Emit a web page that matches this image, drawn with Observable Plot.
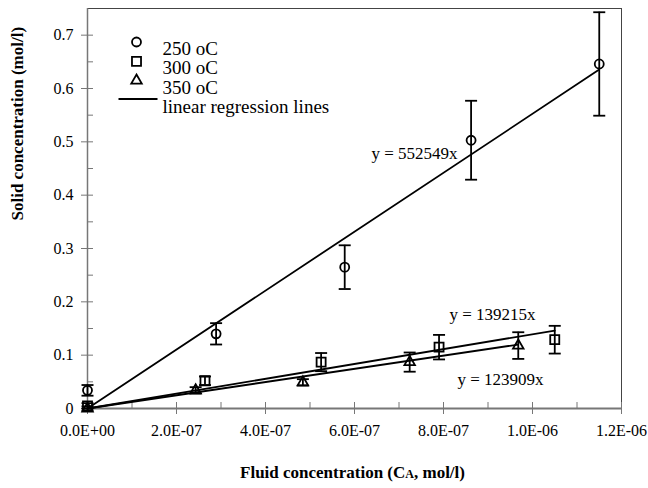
<!DOCTYPE html>
<html>
<head>
<meta charset="utf-8">
<script src="https://cdn.jsdelivr.net/npm/d3@7"></script>
<script src="https://cdn.jsdelivr.net/npm/@observablehq/plot@0.6"></script>
<style>
  html, body { margin: 0; padding: 0; background: #fff; }
  #chart { width: 648px; height: 488px; }
  #chart svg, #chart svg text { font-family: "Liberation Serif", "Times New Roman", serif !important; }
</style>
</head>
<body>
<div id="chart"></div>
<script>
// ---- data ----
const seriesNames = ["250 oC", "300 oC", "350 oC"];
const seriesSymbols = ["circle", "square", "triangle"];

const x250 = [0, 2.89e-7, 5.78e-7, 8.62e-7, 1.15e-6];
const y250 = [0.034, 0.140, 0.265, 0.503, 0.646];
const e250 = [0.010, 0.020, 0.041, 0.074, 0.097];

const x300 = [0, 2.64e-7, 5.25e-7, 7.90e-7, 1.05e-6];
const y300 = [0.005, 0.052, 0.087, 0.115, 0.129];
const e300 = [0.005, 0.008, 0.017, 0.023, 0.026];

const x350 = [0, 2.43e-7, 4.84e-7, 7.24e-7, 9.68e-7];
const y350 = [0.000, 0.034, 0.049, 0.087, 0.118];
const e350 = [0.004, 0.006, 0.006, 0.018, 0.025];

const slopes = [552549, 139215, 123909];
const eqLabels = ["y = 552549x", "y = 139215x", "y = 123909x"];
const eqX = [7.35e-7, 9.10e-7, 9.28e-7];
const eqY = [0.478, 0.176, 0.054];

const xMajor = [0, 2e-7, 4e-7, 6e-7, 8e-7, 1e-6, 1.2e-6];
const xTickLabels = ["0.0E+00", "2.0E-07", "4.0E-07", "6.0E-07", "8.0E-07", "1.0E-06", "1.2E-06"];
const xMinor = [1e-7, 3e-7, 5e-7, 7e-7, 9e-7, 1.1e-6];
const yMajor = [0, 0.1, 0.2, 0.3, 0.4, 0.5, 0.6, 0.7];
const yTickLabels = ["0", "0.1", "0.2", "0.3", "0.4", "0.5", "0.6", "0.7"];
const yMinor = [0.05, 0.15, 0.25, 0.35, 0.45, 0.55, 0.65];

const xTitle = "Fluid concentration (CA, mol/l)";
const yTitle = "Solid concentration (mol/l)";
const legendLineLabel = "linear regression lines";

// ---- build tables ----
const xs = [x250, x300, x350], ys = [y250, y300, y350], es = [e250, e300, e350];
const points = [];
xs.forEach((xa, s) => xa.forEach((x, i) => points.push({s, x, y: ys[s][i], e: es[s][i]})));
const fits = [];
slopes.forEach((m, s) => {
  const xmax = d3.max(xs[s]);
  fits.push({s, x: 0, y: 0}, {s, x: xmax, y: m * xmax});
});
const eqs = eqLabels.map((t, i) => ({t, x: eqX[i], y: eqY[i]}));

// horizontal line symbol (error bar caps / legend line)
const hline = {
  draw(ctx, size) {
    const w = Math.sqrt(size / Math.PI);
    ctx.moveTo(-w, 0); ctx.lineTo(w, 0);
  }
};

const axisGray = "#777";
const ink = "#000";
const serif = "Liberation Serif";
const symR = [4.5, 5.1, 3.9];
const legendRows = [...seriesNames, legendLineLabel];

const plot = Plot.plot({
  width: 648,
  height: 488,
  marginLeft: 87,
  marginRight: 27,
  marginTop: 8,
  marginBottom: 80,
  style: {fontFamily: serif, fontSize: "16px", color: "#000", background: "#fff"},
  x: {domain: [0, 1.2e-6], axis: null},
  y: {domain: [0, 0.75], axis: null},
  marks: [
    Plot.frame({stroke: "#444", strokeWidth: 1}),
    // axis lines
    Plot.ruleY([0], {stroke: axisGray, strokeWidth: 2}),
    Plot.ruleX([0], {stroke: axisGray, strokeWidth: 1.5}),
    // x ticks
    Plot.axisX(xMajor, {anchor: "bottom", tickSize: 12, dy: -6, fill: "none", stroke: axisGray, label: null}),
    Plot.axisX(xMinor, {anchor: "bottom", tickSize: 6, dy: -6, fill: "none", stroke: axisGray, label: null}),
    Plot.axisX(xMajor, {anchor: "bottom", tickSize: 0, tickPadding: 16, stroke: "none", fill: ink, label: null,
      tickFormat: d => xTickLabels[xMajor.indexOf(d)], fontSize: 16, fontFamily: serif}),
    // y ticks
    Plot.axisY(yMajor, {anchor: "left", tickSize: 12, dx: 6, fill: "none", stroke: axisGray, label: null}),
    Plot.axisY(yMinor, {anchor: "left", tickSize: 6, dx: 6, fill: "none", stroke: axisGray, label: null}),
    Plot.axisY(yMajor, {anchor: "left", tickSize: 0, tickPadding: 14, stroke: "none", fill: ink, label: null,
      tickFormat: d => yTickLabels[yMajor.indexOf(d)], fontSize: 16, fontFamily: serif}),
    // regression lines
    Plot.line(fits, {x: "x", y: "y", z: "s", stroke: ink, strokeWidth: 1.8}),
    // error bars
    Plot.ruleX(points, {x: "x", y1: d => d.y - d.e, y2: d => d.y + d.e, stroke: ink, strokeWidth: 1.8}),
    Plot.dot(points, {x: "x", y: d => d.y + d.e, symbol: hline, r: 6, stroke: ink, strokeWidth: 1.8}),
    Plot.dot(points, {x: "x", y: d => d.y - d.e, symbol: hline, r: 6, stroke: ink, strokeWidth: 1.8}),
    // markers
    ...[0, 1, 2].map(s => Plot.dot(points.filter(d => d.s === s), {x: "x", y: "y", symbol: seriesSymbols[s], r: symR[s],
      fill: "none", stroke: ink, strokeWidth: 1.8})),
    // equation labels
    Plot.text(eqs, {x: "x", y: "y", text: "t", fontSize: 17, fontFamily: serif, fill: ink}),
    // legend
    ...seriesNames.map((name, i) => Plot.dot([name], {frameAnchor: "top-left", dx: 49, dy: 33.5 + 19.3 * i,
      symbol: seriesSymbols[i], r: symR[i], fill: "none", stroke: ink, strokeWidth: 1.8})),
    Plot.dot([legendLineLabel], {frameAnchor: "top-left", dx: 50.5, dy: 90.5, symbol: hline, r: 19.5, stroke: ink, strokeWidth: 1.8}),
    ...legendRows.map((name, i) => Plot.text([name], {frameAnchor: "top-left", dx: 75, dy: 32.5 + 19.5 * i, text: d => d,
      textAnchor: "start", fontSize: 19, fontFamily: serif, fill: ink})),
    // axis titles
    Plot.text([xTitle], {frameAnchor: "bottom", dy: 69, dx: -2, text: d => d, fontSize: 17, fontWeight: "bold", fontFamily: serif, fill: ink}),
    Plot.text([yTitle], {frameAnchor: "left", dx: -70, dy: 12, rotate: -90, text: d => d, fontSize: 17, fontWeight: "bold", fontFamily: serif, fill: ink})
  ]
});

document.getElementById("chart").appendChild(plot);

// smaller "A" in the x title (as in the reference)
d3.select(plot).selectAll("text").each(function() {
  if (this.textContent === xTitle) {
    const el = d3.select(this);
    el.text(null);
    el.append("tspan").text("Fluid concentration (C");
    el.append("tspan").attr("font-size", 12).text("A");
    el.append("tspan").text(", mol/l)");
  }
});
</script>
</body>
</html>
